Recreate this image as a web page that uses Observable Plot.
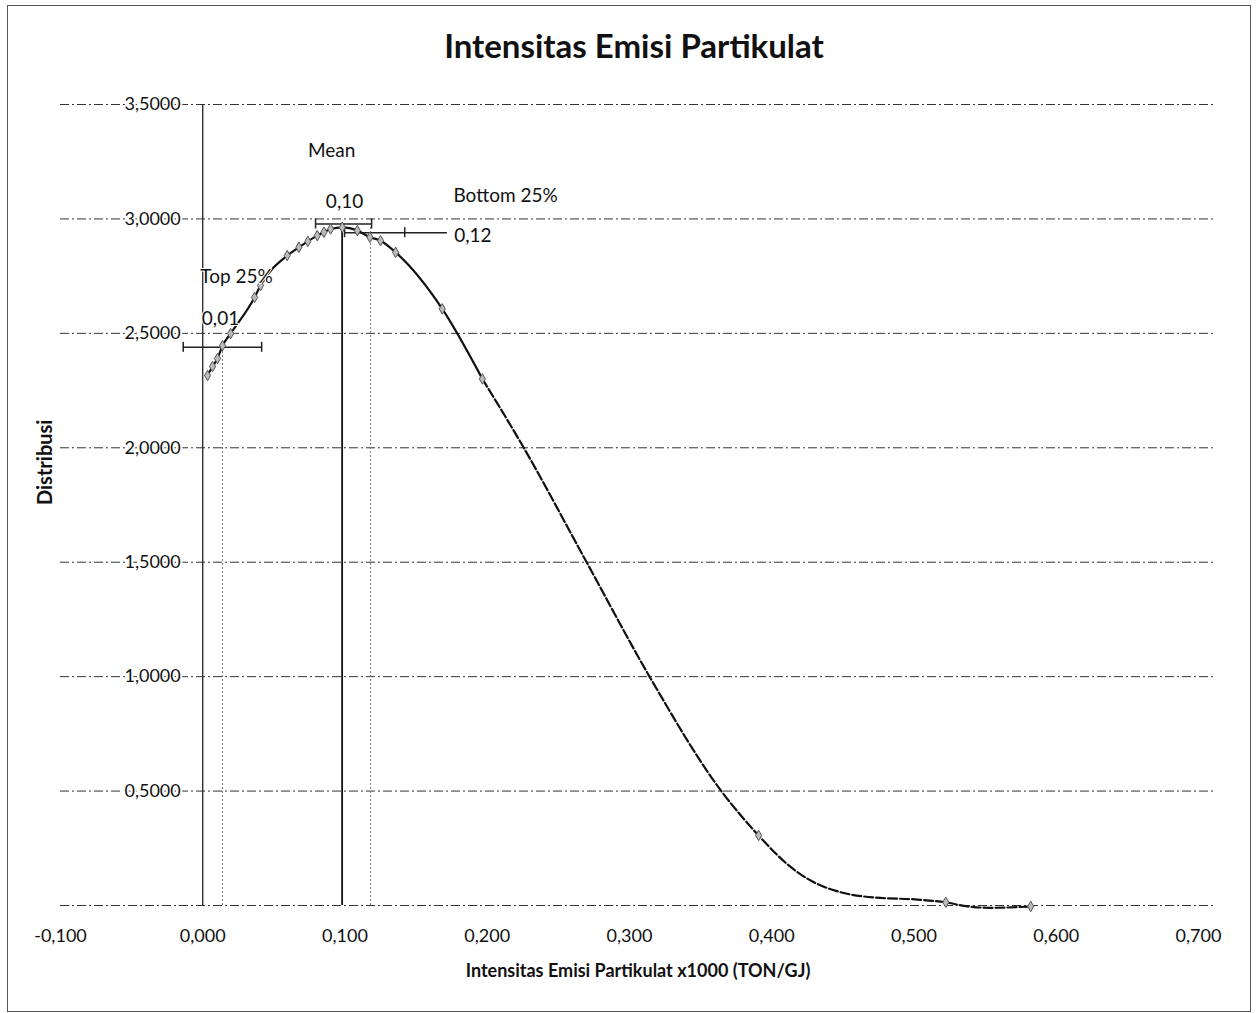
<!DOCTYPE html>
<html><head><meta charset="utf-8">
<script src="https://cdn.jsdelivr.net/npm/d3@7"></script>
<script src="https://cdn.jsdelivr.net/npm/@observablehq/plot@0.6"></script>
<style>
body{margin:0;background:#fff;}
#wrap{position:relative;width:1258px;height:1013px;overflow:hidden;font-family:Lato,"Open Sans",sans-serif;background:#fff;}
#border{position:absolute;left:7px;top:5px;width:1244px;height:1007px;border:1px solid #555;box-sizing:border-box;}
#title{position:absolute;left:0;top:25px;width:1268px;height:60px;text-align:center;font:bold 33px Lato,sans-serif;line-height:40px;margin:0;color:#111;}
#chart{position:absolute;left:0;top:90px;}
</style></head>
<body><div id="wrap"><div id="border"></div><h2 id="title">Intensitas Emisi Partikulat</h2><div id="chart"></div></div>
<script>
// ---- data ----
const xTicks = [-0.1, 0, 0.1, 0.2, 0.3, 0.4, 0.5, 0.6, 0.7];
const yTicks = [0.5, 1, 1.5, 2, 2.5, 3, 3.5];
const gridY = [0, 0.5, 1, 1.5, 2, 2.5, 3, 3.5];

// sample points (markers)
const markerX = [0.0034,0.0069,0.0104,0.0139,0.0196,0.0364,0.0406,0.0594,0.0676,0.0739,0.0805,0.0852,0.0899,0.0981,0.1087,0.1175,0.125,0.1356,0.1684,0.1966,0.3908,0.5224,0.5821];
const markerY = [2.316,2.355,2.39,2.446,2.499,2.657,2.709,2.84,2.876,2.902,2.927,2.942,2.956,2.963,2.949,2.92,2.905,2.854,2.607,2.301,0.306,0.014,-0.004];

// traced distribution curve
const curveX = [0.0034,0.0069,0.0104,0.0139,0.0196,0.0364,0.0406,0.0594,0.0676,0.0739,0.0805,0.0852,0.0899,0.0981,0.1087,0.1175,0.125,0.1356,0.1684,0.1966,0.2257,0.2704,0.3144,0.3648,0.3908,0.412,0.4274,0.4485,0.4717,0.5025,0.5224,0.5376,0.554,0.5821];
const curveY = [2.316,2.355,2.39,2.446,2.499,2.657,2.709,2.84,2.876,2.902,2.927,2.942,2.956,2.963,2.949,2.92,2.905,2.854,2.607,2.301,2.0,1.494,0.997,0.498,0.306,0.175,0.109,0.058,0.035,0.026,0.014,-0.004,-0.01,-0.004];
const dashFrom = 0.1966;

// vertical reference lines (x position, top value)
const refX = [0, 0.0139, 0.098, 0.118];
const refTop = [3.5, 2.446, 2.963, 2.97];

// horizontal range bars
const barY = [2.439, 2.978, 2.94];
const barLo = [-0.0137, 0.0793, 0.0997];
const barHi = [0.0414, 0.1187, 0.172];
const capX = [-0.0137, 0.0414, 0.0793, 0.1187, 0.0997, 0.142];
const capY = [2.439, 2.439, 2.978, 2.978, 2.94, 2.94];

// annotation labels
const annoText = ["Mean", "0,10", "Bottom 25%", "0,12", "Top 25%", "0,01"];
const annoX = [0.0906, 0.0997, 0.2129, 0.1899, 0.0238, 0.0125];
const annoY = [3.298, 3.075, 3.102, 2.927, 2.748, 2.564];

const xTitle = "Intensitas Emisi Partikulat x1000 (TON/GJ)";
const yTitle = "Distribusi";

// ---- drawing ----
const fmtX = v => d3.format(".3f")(v).replace("−", "-").replace(".", ",");
const fmtY = v => d3.format(".4f")(v).replace(".", ",");
const idx = a => d3.range(a.length);
const cIdx = idx(curveX);
const solidIdx = cIdx.filter(i => curveX[i] <= dashFrom);
const dashIdx = cIdx.filter(i => curveX[i] >= dashFrom);

const chart = Plot.plot({
  width: 1258, height: 923,
  marginLeft: 60, marginRight: 43, marginTop: 14, marginBottom: 108,
  x: {domain: [-0.1, 0.712], axis: null},
  y: {domain: [0, 3.5], axis: null},
  style: {fontFamily: "Lato, 'Open Sans', sans-serif", background: "transparent", color: "#111"},
  marks: [
    Plot.ruleY(gridY, {y: d => d, stroke: "#333", strokeWidth: 1, strokeDasharray: "9,3,2,3"}),
    // reference verticals
    Plot.ruleX([0], {x: i => refX[i], y1: 0, y2: i => refTop[i], stroke: "#222", strokeWidth: 1.3}),
    Plot.ruleX([1, 3], {x: i => refX[i], y1: 0, y2: i => refTop[i], stroke: "#777", strokeWidth: 1, strokeDasharray: "2,2"}),
    Plot.ruleX([2], {x: i => refX[i], y1: 0, y2: i => refTop[i], stroke: "#111", strokeWidth: 1.8}),
    // range bars
    Plot.ruleY(idx(barY), {y: i => barY[i], x1: i => barLo[i], x2: i => barHi[i], stroke: "#222", strokeWidth: 1.5}),
    Plot.ruleX(idx(capX), {x: i => capX[i], y1: i => capY[i], y2: i => capY[i], insetTop: -5, insetBottom: -5, stroke: "#222", strokeWidth: 1.5}),
    // curve
    Plot.line(solidIdx, {x: i => curveX[i], y: i => curveY[i], curve: "monotone-x", stroke: "#111", strokeWidth: 2.2}),
    Plot.line(dashIdx, {x: i => curveX[i], y: i => curveY[i], curve: "monotone-x", stroke: "#111", strokeWidth: 2.2, strokeDasharray: "9,3"}),
    Plot.dot(idx(markerX), {x: i => markerX[i], y: i => markerY[i], symbol: "diamond", r: 3.2, fill: "#bbb", stroke: "#555", strokeWidth: 1}),
    // tick labels
    Plot.text(yTicks, {x: 0, y: d => d, text: fmtY, textAnchor: "end", dx: -22, fontSize: 18, fill: "#111", stroke: "white", strokeWidth: 4}),
    Plot.text(xTicks, {x: d => d, y: 0, dy: 31, text: fmtX, fontSize: 18, fill: "#111"}),
    // annotations
    Plot.text(idx(annoText), {x: i => annoX[i], y: i => annoY[i], text: i => annoText[i], fontSize: 19, fill: "#111", stroke: "white", strokeWidth: 2}),
    // axis titles
    Plot.text([xTitle], {text: d => d, frameAnchor: "bottom", lineAnchor: "middle", dy: 66, fontSize: 18, fontWeight: "bold", fill: "#111"}),
    Plot.text([yTitle], {text: d => d, frameAnchor: "left", lineAnchor: "middle", dx: -14.5, rotate: -90, fontSize: 20, fontWeight: "bold", fill: "#111"})
  ]
});
document.getElementById("chart").appendChild(chart);
</script></body></html>
